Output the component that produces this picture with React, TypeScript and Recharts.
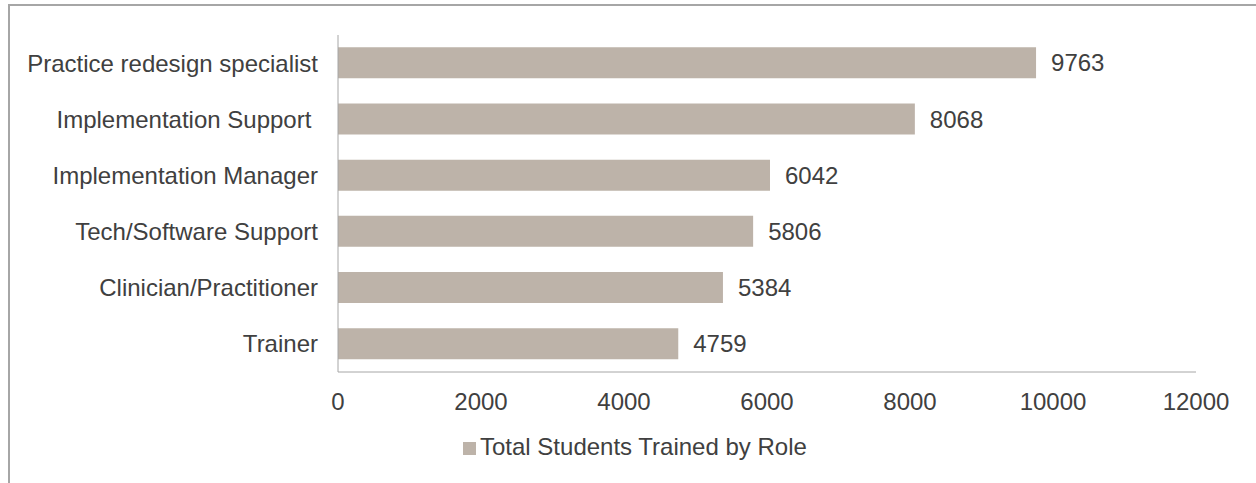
import React from 'react';
import { BarChart, Bar, XAxis, YAxis, Legend, LabelList } from 'recharts';

const roles = [
  'Practice redesign specialist',
  'Implementation Support ',
  'Implementation Manager',
  'Tech/Software Support',
  'Clinician/Practitioner',
  'Trainer',
];
const studentsTrained = [9763, 8068, 6042, 5806, 5384, 4759];
const xTicks = [0, 2000, 4000, 6000, 8000, 10000, 12000];

const data = roles.map((role, i) => ({ role, students: studentsTrained[i] }));

const BAR = '#bdb3a9';
const TEXT = '#404040';
const AXIS = '#a6a6a6';
const FONT = '"Liberation Sans", Arial, sans-serif';

export default function App() {
  return (
    <div
      style={{
        position: 'absolute',
        left: 0,
        top: 0,
        width: 1256,
        height: 483,
        overflow: 'hidden',
        background: '#fff',
        fontFamily: FONT,
      }}
    >
      {/* outer frame, only top and left edges visible */}
      <div
        style={{
          position: 'absolute',
          left: 8,
          top: 4,
          width: 1300,
          height: 600,
          borderTop: `2px solid ${AXIS}`,
          borderLeft: `2px solid ${AXIS}`,
        }}
      />
      <BarChart
        width={1256}
        height={483}
        data={data}
        layout="vertical"
        barCategoryGap="22%"
        margin={{ top: 35, right: 60, left: 0, bottom: 24 }}
        style={{ position: 'absolute', left: 0, top: 0 }}
      >
        <XAxis
          type="number"
          domain={[0, 12000]}
          ticks={xTicks}
          tickLine={false}
          tickSize={0}
          tickMargin={21}
          height={59}
          stroke={AXIS}
          tick={{ fill: TEXT, fontSize: 24, fontFamily: FONT }}
        />
        <YAxis
          type="category"
          dataKey="role"
          width={338}
          tickLine={false}
          tickSize={0}
          tickMargin={20}
          stroke={AXIS}
          tick={{ fill: TEXT, fontSize: 24, fontFamily: FONT, style: { whiteSpace: 'pre' } }}
        />
        <Legend
          verticalAlign="bottom"
          iconType="square"
          iconSize={13}
          wrapperStyle={{ fontSize: 24, fontFamily: FONT, left: 463, top: 433, width: 'auto' }}
          formatter={(value) => <span style={{ color: TEXT }}>{value}</span>}
        />
        <Bar
          dataKey="students"
          name="Total Students Trained by Role"
          fill={BAR}
          isAnimationActive={false}
        >
          <LabelList
            dataKey="students"
            position="right"
            offset={15}
            fill={TEXT}
            fontSize={24}
            fontFamily={FONT}
          />
        </Bar>
      </BarChart>
    </div>
  );
}
